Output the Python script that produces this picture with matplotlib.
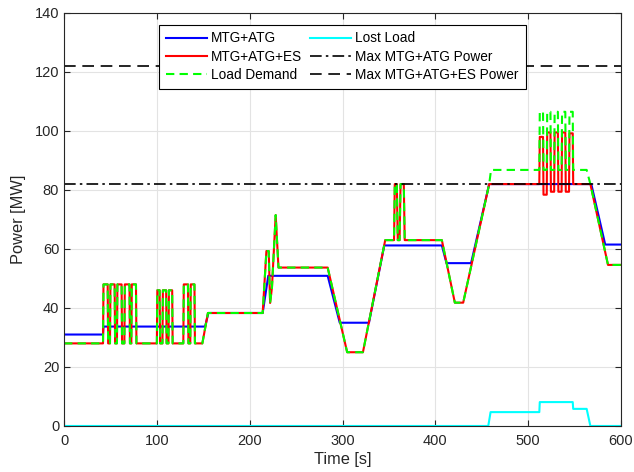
import matplotlib
matplotlib.use('Agg')
import matplotlib.pyplot as plt

plt.rcParams['font.family'] = ['Liberation Sans', 'DejaVu Sans']

# breakpoints (time [s], power [MW])
mtg_atg_t = [0, 42, 42.5, 152, 155.5, 214, 220, 284, 297, 328.5, 345, 407, 412, 438.5, 458, 568, 583, 600]
mtg_atg_p = [31, 31, 33.7, 33.7, 38.3, 38.3, 50.9, 50.9, 35, 35, 61.2, 61.2, 55.2, 55.2, 82, 82, 61.5, 61.5]

load_t = [0, 42, 42.5, 47, 47.5, 49.5, 50, 54.5, 55, 57, 57.5, 62, 62.5, 65, 65.5, 70.5, 71, 72.5, 73, 77.5, 78,
          100, 100.5, 103, 103.5, 106, 106.5, 110, 110.5, 112.5, 113, 116.5, 117,
          128.5, 129, 133.5, 134, 136, 136.5, 140.5, 141,
          149, 155, 214, 218, 220.5, 222, 224, 228, 231, 284, 305, 322, 346,
          355.5, 356.3, 358.5, 359.5, 361.5, 362.5, 366, 367,
          407, 421, 430, 458, 460,
          512, 512.5, 516, 516.5, 520, 520.5, 524, 524.5, 528, 528.5, 532, 532.5,
          536, 536.5, 540, 540.5, 544, 544.5, 548, 548.5,
          563, 567, 586, 600]
load_p = [28, 28, 48, 48, 28, 28, 48, 48, 28, 28, 48, 48, 28, 28, 48, 48, 28, 28, 48, 48, 28,
          28, 46, 46, 28, 28, 46, 46, 28, 28, 46, 46, 28,
          28, 48, 48, 28, 28, 48, 48, 28,
          28, 38.3, 38.3, 59.3, 59.3, 41.7, 47, 71.5, 53.7, 53.7, 25, 25, 63,
          63, 82, 82, 63, 63, 82, 82, 63,
          63, 41.8, 41.8, 82, 86.8,
          86.8, 106.5, 106.5, 86.8, 86.8, 106.5, 106.5, 86.8, 86.8, 106.5, 106.5, 86.8,
          86.8, 106.5, 106.5, 86.8, 86.8, 106.5, 106.5, 86.8,
          86.8, 82, 54.6, 54.6]

# with ES the supply follows the load up to 458 s
es_t = load_t[:load_t.index(458) + 1] + [512, 512.5, 516, 516.5, 520, 520.5, 524, 524.5, 528, 528.5, 532, 532.5,
                                         536, 536.5, 540, 540.5, 544, 544.5, 548, 548.5, 567, 586, 600]
es_p = load_p[:load_t.index(458) + 1] + [82, 98, 98, 78.4, 78.4, 99.5, 99.5, 79.4, 79.4, 99.5, 99.5, 79.4,
                                         79.4, 99.5, 99.5, 79.4, 79.4, 99.2, 99.2, 82, 82, 54.6, 54.6]

lost_t = [0, 457, 459.5, 512, 512.5, 548, 548.5, 563, 567, 600]
lost_p = [0, 0, 4.7, 4.7, 8.1, 8.1, 5.8, 5.8, 0, 0]

max_mtg_atg = 82
max_mtg_atg_es = 122

fig = plt.figure(figsize=(6.34, 4.72), dpi=100)
ax = fig.add_axes([0.101, 0.0975, 0.8785, 0.875])

ax.plot(mtg_atg_t, mtg_atg_p, color='#0000ff', lw=1.5, label='MTG+ATG')
ax.plot(es_t, es_p, color='#ff0000', lw=1.5, label='MTG+ATG+ES')
ax.plot(load_t, load_p, color='#00ff00', lw=1.5, dashes=(4, 2.5), label='Load Demand')
ax.plot(lost_t, lost_p, color='#00ffff', lw=1.5, label='Lost Load')
ax.plot([0, 600], [max_mtg_atg] * 2, color='k', lw=1.2, dashes=(7, 2.5, 1.5, 2.5), label='Max MTG+ATG Power')
ax.plot([0, 600], [max_mtg_atg_es] * 2, color='k', lw=1.2, dashes=(7, 4), label='Max MTG+ATG+ES Power')

ax.set_xlim(0, 600)
ax.set_ylim(0, 140)
ax.set_xticks(range(0, 601, 100))
ax.set_yticks(range(0, 141, 20))
ax.grid(True, color='#e3e3e3', lw=0.8)
ax.set_axisbelow(True)
ax.tick_params(direction='in', length=4, top=True, right=True, labelsize=10.5, colors='#262626')
ax.tick_params(axis='x', pad=6)
for s in ax.spines.values():
    s.set_color('#262626')
    s.set_linewidth(0.8)
ax.set_xlabel('Time [s]', fontsize=11.8, color='#262626', labelpad=3)
ax.set_ylabel('Power [MW]', fontsize=11.8, color='#262626', labelpad=6)

leg = ax.legend(loc='upper center', bbox_to_anchor=(0.5, 0.972), ncol=2, fontsize=9.8, handlelength=3.0,
                fancybox=False, framealpha=1, edgecolor='k', borderpad=0.5, labelspacing=0.32,
                columnspacing=0.6, handletextpad=0.3, borderaxespad=0)
leg.get_frame().set_linewidth(0.8)

fig.savefig('out.png', dpi=100)
